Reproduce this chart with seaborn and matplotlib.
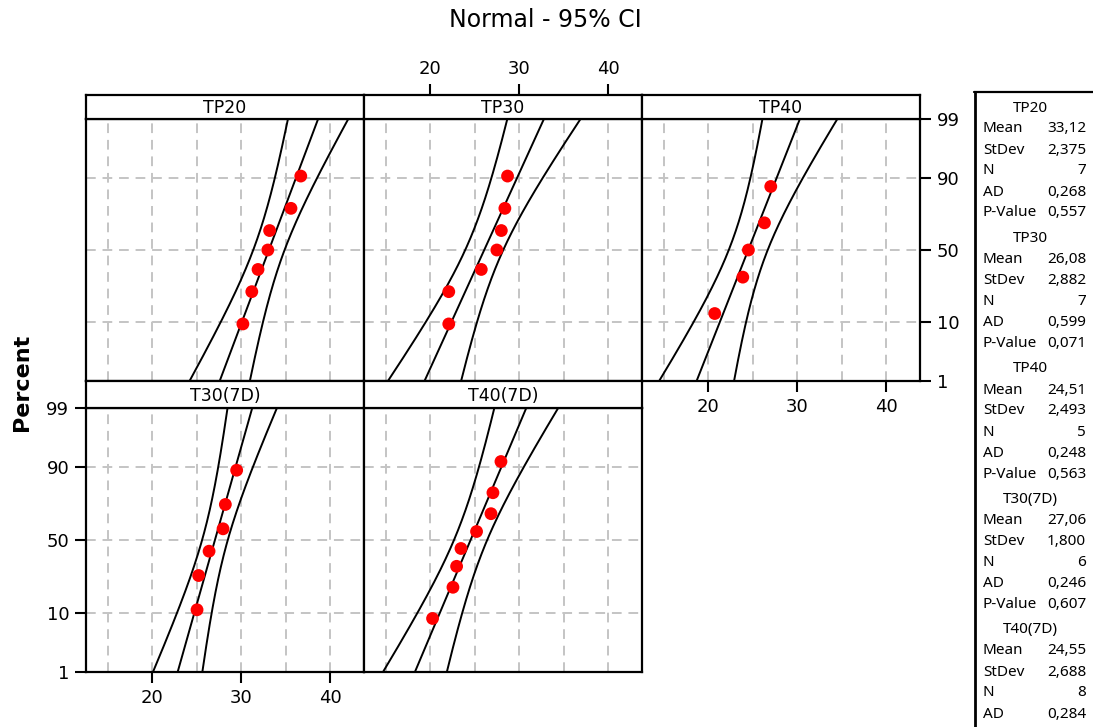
import numpy as np
import matplotlib
matplotlib.use("Agg")
import matplotlib.pyplot as plt
import seaborn as sns
from matplotlib.lines import Line2D
from statistics import NormalDist

# values
groups = ["TP20", "TP30", "TP40", "T30(7D)", "T40(7D)"]
tp20 = [30.2, 31.2, 31.9, 33.0, 33.2, 35.6, 36.7]
tp30 = [22.1, 22.1, 25.75, 27.5, 28.0, 28.4, 28.7]
tp40 = [20.75, 23.9, 24.53, 26.33, 27.04]
t30_7d = [25.05, 25.23, 26.4, 27.97, 28.23, 29.5]
t40_7d = [20.28, 22.57, 22.98, 23.47, 25.22, 26.84, 27.06, 27.96]
samples = [tp20, tp30, tp40, t30_7d, t40_7d]

# summary table (as printed in the legend box)
means = [33.12, 26.08, 24.51, 27.06, 24.55]
stdevs = [2.375, 2.882, 2.493, 1.800, 2.688]
ns = [7, 7, 5, 6, 8]
ads = ["0,268", "0,599", "0,248", "0,246", "0,284"]
pvals = ["0,557", "0,071", "0,563", "0,607", None]

pct_ticks = [1, 10, 50, 90, 99]
x_ticks = [20, 30, 40]
x_grid = [15, 25, 35]

W, H = 1093, 727
nd = NormalDist()

sns.set_style("white")
plt.rcParams['font.family'] = ['DejaVu Sans']
plt.rcParams['text.color'] = 'black'
plt.rcParams['xtick.color'] = 'black'
plt.rcParams['ytick.color'] = 'black'

fig = plt.figure(figsize=(W / 100, H / 100), dpi=100)


def rect(l, t, r, b):
    return [l / W, 1 - b / H, (r - l) / W, (b - t) / H]


cols = [(86, 364), (364, 642), (642, 920)]
rows = [((95, 119), (119, 381)), ((381, 408), (408, 672))]
cells = [(0, 0), (0, 1), (0, 2), (1, 0), (1, 1)]

zlo, zhi = nd.inv_cdf(0.01), nd.inv_cdf(0.99)
zz = np.linspace(zlo, zhi, 200)
grid_kw = dict(color="#c4c4c4", linestyle=(0, (5, 3.5)), linewidth=1.4)

for i, name in enumerate(groups):
    r, c = cells[i]
    (l, rr) = cols[c]
    (st, sb), (pt, pb) = rows[r]
    ax = fig.add_axes(rect(l, pt, rr, pb))
    sax = fig.add_axes(rect(l, st, rr, sb))

    vals = np.sort(samples[i])
    n = len(vals)
    ranks = np.arange(1, n + 1)
    zpos = [nd.inv_cdf((k - 0.3) / (n + 0.4)) for k in ranks]

    # fitted line and 95% CI bands
    m, s = means[i], stdevs[i]
    fit = m + zz * s
    half = 1.96 * s * np.sqrt((1 + zz ** 2 / 2) / ns[i])
    for xs in (fit - half, fit, fit + half):
        ax.plot(xs, zz, color="black", lw=1.4, zorder=3)

    sns.scatterplot(x=vals, y=zpos, ax=ax, color="red", s=85,
                    edgecolor="none", zorder=4, legend=False)

    ax.set_xlim(12.58, 43.8)
    ax.set_ylim(zlo, zhi)
    ax.set_xticks(x_ticks)
    ax.set_xticks(x_grid, minor=True)
    ax.set_yticks([nd.inv_cdf(p / 100) for p in pct_ticks])
    ax.set_yticklabels([str(p) for p in pct_ticks])
    ax.grid(True, which="both", **grid_kw)
    ax.set_axisbelow(True)
    ax.tick_params(which="minor", length=0)
    ax.tick_params(which="major", direction="out", length=8, width=1.5,
                   labelsize=13, colors="black", pad=4,
                   bottom=False, labelbottom=False, left=False, labelleft=False)
    ax.set_xlabel("")
    ax.set_ylabel("")
    for sp in ax.spines.values():
        sp.set_color("black")
        sp.set_linewidth(1.6)

    # tick placement like the original panel layout
    if name == "TP40":
        ax.tick_params(axis="x", bottom=True, labelbottom=True)
        ax.tick_params(axis="y", right=True, labelright=True)
    if name == "T30(7D)":
        ax.tick_params(axis="x", bottom=True, labelbottom=True)
        ax.tick_params(axis="y", left=True, labelleft=True)

    # strip header
    sax.set_xlim(12.58, 43.8)
    sax.set_yticks([])
    sax.set_xticks([])
    for sp in sax.spines.values():
        sp.set_color("black")
        sp.set_linewidth(1.6)
    sax.text(0.5, 0.45, name, transform=sax.transAxes, ha="center",
             va="center", fontsize=12.5)
    if name == "TP30":
        sax.set_xticks(x_ticks)
        sax.tick_params(axis="x", top=True, labeltop=True, bottom=False,
                        labelbottom=False, direction="out", length=8,
                        width=1.5, labelsize=13, pad=4)

fig.text(545 / W, 1 - 20 / H, "Normal - 95% CI", ha="center", va="center",
         fontsize=17)
fig.text(22 / W, 1 - 382 / H, "Percent", rotation=90, ha="center",
         va="center", fontsize=16, fontweight="bold")

# summary box on the right
fig.add_artist(Line2D([974.5 / W, 974.5 / W], [1 - 92 / H, -0.01],
                      transform=fig.transFigure, color="black", lw=2.0))
fig.add_artist(Line2D([974 / W, 1.01], [1 - 92 / H, 1 - 92 / H],
                      transform=fig.transFigure, color="black", lw=1.6))

box_font = dict(fontsize=11, family="Noto Sans")
labels = ["Mean", "StDev", "N", "AD", "P-Value"]
for g, name in enumerate(groups):
    y0 = 108 + 130.5 * g
    fig.text(1030 / W, 1 - y0 / H, name, ha="center", va="center", **box_font)
    vals = [f"{means[g]:.2f}".replace(".", ","),
            f"{stdevs[g]:.3f}".replace(".", ","),
            str(ns[g]), ads[g], pvals[g]]
    for k, (lab, v) in enumerate(zip(labels, vals)):
        if v is None:
            continue
        yk = y0 + 21 * (k + 1)
        fig.text(983 / W, 1 - yk / H, lab, ha="left", va="center", **box_font)
        fig.text(1086 / W, 1 - yk / H, v, ha="right", va="center", **box_font)

fig.savefig("out.png", dpi=100)
